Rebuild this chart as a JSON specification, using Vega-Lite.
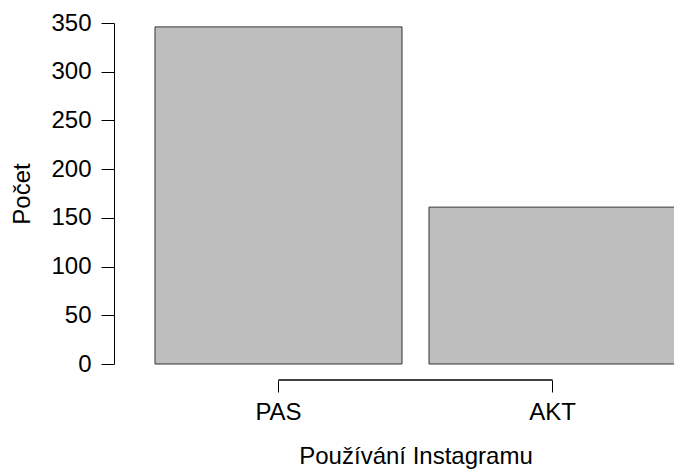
{
  "$schema": "https://vega.github.io/schema/vega-lite/v6.json",
  "width": 521,
  "height": 341,
  "autosize": {"type": "none"},
  "padding": {"left": 155, "top": 23, "right": 0, "bottom": 106},
  "background": "white",
  "config": {
    "view": {"stroke": null},
    "font": "Liberation Sans",
    "axis": {"labelFont": "Liberation Sans", "titleFont": "Liberation Sans", "labelColor": "#000", "titleColor": "#000", "titleFontWeight": "normal", "grid": false}
  },
  "data": {"values": [
    {"kategorie": "PAS", "pocet": 346},
    {"kategorie": "AKT", "pocet": 161}
  ]},
  "layer": [
    {
      "mark": {"type": "bar", "fill": "#bebebe", "stroke": "#333333", "strokeWidth": 1},
      "encoding": {
        "x": {
          "field": "kategorie", "type": "nominal", "sort": ["PAS", "AKT"],
          "scale": {"domain": ["PAS", "AKT"], "paddingInner": 0.0985, "paddingOuter": 0},
          "axis": {"title": "Používání Instagramu", "labelAngle": 0, "domain": false, "offset": 16, "tickSize": 12, "tickColor": "#000", "labelFontSize": 24, "titleFontSize": 24, "labelPadding": 8, "titlePadding": 20}
        },
        "y": {
          "field": "pocet", "type": "quantitative",
          "scale": {"domain": [0, 350], "nice": false},
          "axis": {"title": "Počet", "values": [0, 50, 100, 150, 200, 250, 300, 350], "offset": 41, "tickSize": 13, "domainColor": "#000", "tickColor": "#000", "labelFontSize": 24, "titleFontSize": 24, "labelPadding": 10, "titlePadding": 16, "labelFlush": false}
        }
      }
    },
    {
      "mark": {"type": "rule", "color": "#000", "strokeWidth": 1, "yOffset": 16, "clip": false},
      "encoding": {
        "x": {"datum": "PAS"},
        "x2": {"datum": "AKT"},
        "y": {"datum": 0}
      }
    }
  ]
}
